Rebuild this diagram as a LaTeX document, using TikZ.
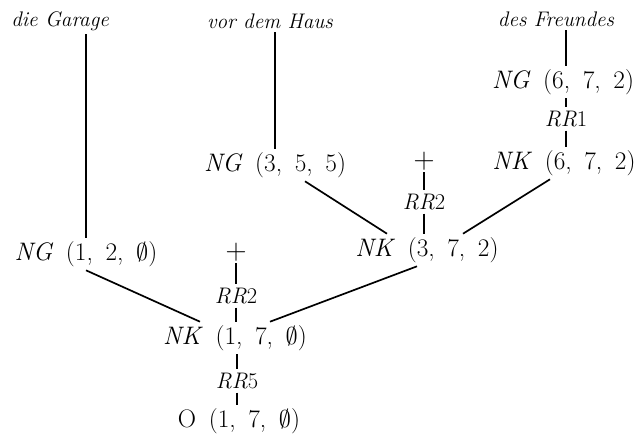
\documentclass[tikz,border=0pt]{standalone}
\usepackage{fontspec}
\newcommand{\gap}{\hspace{.5em}}
\newcommand{\tpl}[3]{(#1,\gap#2,\gap#3)}
\begin{document}
\begin{tikzpicture}[x=0.025cm, y=-0.025cm, inner sep=2pt, line width=1.2pt,
    tuple/.style={font=\fontsize{18}{21}\selectfont},
    word/.style={font=\fontsize{15}{18}\selectfont\itshape},
    rule/.style={font=\fontsize{16}{19}\selectfont},
    cross/.style={font=\fontsize{21}{24}\selectfont, inner sep=1pt},
    thin link/.style={line width=.8pt}]
      \useasboundingbox (0,0) rectangle (634,437);
      \node[word] (W1) at (60,21) {die Garage};
      \node[word] (W2) at (270,21) {vor dem Haus};
      \node[word] (W3) at (556,19) {des Freundes};
      \node[tuple] (NG1) at (86,254) {\textit{NG}\gap\tpl{1}{2}{$\emptyset$}};
      \node[tuple] (NG2) at (275,165) {\textit{NG}\gap\tpl{3}{5}{5}};
      \node[tuple] (NG3) at (563,82) {\textit{NG}\gap\tpl{6}{7}{2}};
      \node[rule] (R1) at (566,119) {\textit{RR}1};
      \node[tuple] (NK3) at (564,163) {\textit{NK}\gap\tpl{6}{7}{2}};
      \node[cross] (P2) at (424,161) {$+$};
      \node[rule] (R2b) at (424,202) {\textit{RR}2};
      \node[tuple] (NK2) at (427,250) {\textit{NK}\gap\tpl{3}{7}{2}};
      \node[cross] (P1) at (236,252) {$+$};
      \node[rule] (R2a) at (236,296) {\textit{RR}2};
      \node[tuple] (NK1) at (235,338) {\textit{NK}\gap\tpl{1}{7}{$\emptyset$}};
      \node[rule] (R5) at (237,381) {\textit{RR}5};
      \node[tuple] (O) at (239,421) {O\gap\tpl{1}{7}{$\emptyset$}};
      \draw (W1.south -| NG1.north) -- (NG1.north);
      \draw (W2.south -| NG2.north) -- (NG2.north);
      \draw (W3.south -| R1.north) -- (R1.north |- NG3.north);
      \draw[thin link] (NG3.south -| R1.north) -- (R1.north);
      \draw[thin link] (R1.south) -- (R1.south |- NK3.north);
      \draw[thin link] (P2.south) -- (R2b.north);
      \draw[thin link] (R2b.south) -- (R2b.south |- NK2.north);
      \draw[thin link] (P1.south) -- (R2a.north);
      \draw[thin link] (R2a.south) -- (R2a.south |- NK1.north);
      \draw[thin link] (NK1.south -| R5.north) -- (R5.north);
      \draw[thin link] (R5.south) -- (R5.south |- O.north);
      \draw ([xshift=.75cm]NG2.south) -- ([xshift=-1cm]NK2.north);
      \draw ([xshift=-.35cm]NK3.south) -- ([xshift=.9cm]NK2.north);
      \draw (NG1.south) -- ([xshift=-.875cm]NK1.north);
      \draw ([xshift=-.25cm]NK2.south) -- ([xshift=.875cm]NK1.north);
   \end{tikzpicture}
\end{document}
